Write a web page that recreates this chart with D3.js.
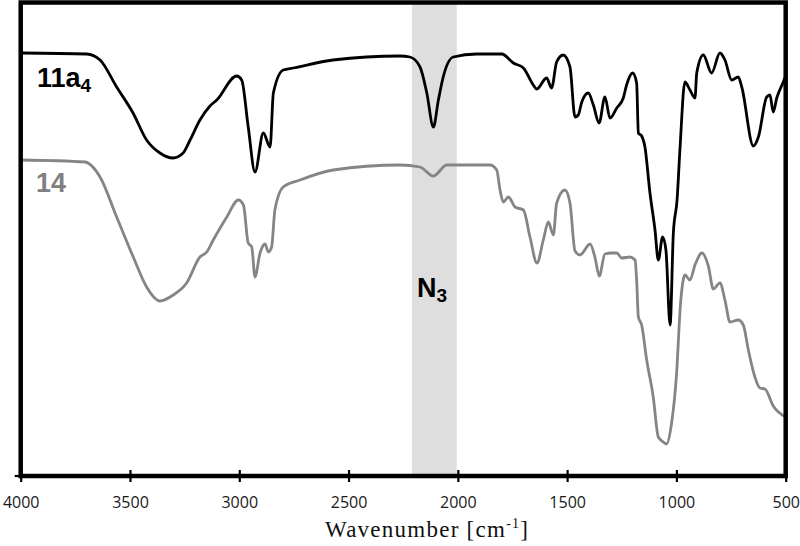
<!DOCTYPE html>
<html>
<head>
<meta charset="utf-8">
<script src="https://cdn.jsdelivr.net/npm/d3@7"></script>
<style>
  body { margin: 0; background: #fff; }
  svg { display: block; }
</style>
</head>
<body>
<svg width="800" height="546"></svg>
<script>
// IR spectra, wavenumber axis runs backwards (4000 -> 500)
const wavenumberTicks = [4000, 3500, 3000, 2500, 2000, 1500, 1000, 500];
const azideBand = [2210, 2005];

// compound 11a4 (black), arbitrary transmittance units
const wn11a4 = [4000, 3698, 3637, 3561, 3486, 3424, 3363, 3303, 3257, 3225, 3180, 3134, 3103, 3012, 2989,
  2959, 2928, 2890, 2859, 2844, 2799, 2753, 2571, 2265, 2219, 2173, 2142, 2112, 2089, 2067, 2021, 1914,
  1799, 1746, 1700, 1655, 1639, 1594, 1571, 1548, 1518, 1487, 1464, 1449, 1433, 1403, 1380, 1354, 1327,
  1304, 1273, 1243, 1228, 1200, 1182, 1174, 1159, 1144, 1121, 1098, 1083, 1063, 1048, 1029, 1014, 997,
  984, 961, 938, 915, 907, 877, 839, 801, 778, 747, 717, 701, 648, 625, 587, 572, 557, 541, 511, 500];
const t11a4 = [423, 422, 416, 389, 363, 336, 323, 318, 323, 336, 356, 370, 376, 400, 396,
  349, 304, 343, 329, 383, 406, 408, 416, 420, 419, 409, 383, 349, 376, 399, 419, 422,
  422, 413, 408, 391, 387, 398, 388, 414, 421, 409, 359, 361, 374, 383, 371, 353, 379,
  358, 368, 378, 391, 403, 393, 343, 340, 329, 283, 246, 216, 239, 226, 151, 243, 276,
  326, 394, 386, 378, 403, 421, 403, 423, 416, 396, 399, 389, 330, 339, 379, 381, 364, 378, 394, 400];

// compound 14 (grey)
const wn14 = [4000, 3706, 3637, 3561, 3485, 3424, 3363, 3302, 3241, 3180, 3149, 3119, 3057, 3004, 2981,
  2959, 2943, 2928, 2905, 2882, 2867, 2852, 2837, 2799, 2722, 2570, 2265, 2173, 2112, 2051, 1960, 1853,
  1822, 1807, 1792, 1769, 1738, 1700, 1670, 1638, 1609, 1586, 1563, 1548, 1510, 1487, 1464, 1441, 1395,
  1372, 1353, 1327, 1296, 1273, 1250, 1212, 1189, 1182, 1174, 1159, 1136, 1106, 1083, 1060, 1045, 1022,
  1000, 981, 969, 961, 938, 915, 883, 854, 831, 801, 778, 755, 717, 694, 671, 641, 618, 595, 557, 500];
const t14 = [316, 314, 299, 259, 219, 189, 175, 181, 193, 219, 224, 236, 259, 276, 271,
  233, 229, 199, 223, 232, 224, 229, 266, 289, 296, 306, 311, 309, 300, 311, 311, 311,
  306, 286, 274, 279, 269, 266, 239, 213, 236, 254, 241, 273, 286, 273, 225, 221, 232,
  218, 200, 222, 223, 223, 218, 219, 216, 196, 159, 151, 116, 79, 39, 34, 32, 53,
  100, 173, 196, 201, 196, 211, 223, 210, 187, 193, 176, 154, 156, 151, 126, 99, 88, 87, 70, 59];

var svg = d3.select("svg");
var margin = { left: 20.7, right: 14.3, top: 2.5, bottom: 70 };
var width = +svg.attr("width");
var height = +svg.attr("height");
var plotBottom = height - margin.bottom;

var x = d3.scaleLinear().domain([4000, 500]).range([margin.left, width - margin.right]);
var y = d3.scaleLinear().domain([0, 473.5]).range([plotBottom, margin.top]);

// shaded N3 region
svg.append("rect")
  .attr("x", x(azideBand[0]))
  .attr("width", x(azideBand[1]) - x(azideBand[0]))
  .attr("y", margin.top)
  .attr("height", plotBottom - margin.top)
  .attr("fill", "#dedede");

var line = d3.line()
  .x(function (d) { return x(d[0]); })
  .y(function (d) { return y(d[1]); })
  .curve(d3.curveMonotoneX);

var series = [
  { wn: wn14, t: t14, color: "#858585" },
  { wn: wn11a4, t: t11a4, color: "#000" }
];

series.forEach(function (s) {
  svg.append("path")
    .datum(d3.zip(s.wn, s.t))
    .attr("fill", "none")
    .attr("stroke", s.color)
    .attr("stroke-width", 2.8)
    .attr("stroke-linejoin", "round")
    .attr("d", line);
});

// frame
svg.append("rect")
  .attr("x", margin.left)
  .attr("y", margin.top)
  .attr("width", x(500) - x(4000))
  .attr("height", plotBottom - margin.top)
  .attr("fill", "none")
  .attr("stroke", "#000")
  .attr("stroke-width", 4.5);

// x axis with ticks crossing the baseline
var xAxis = d3.axisBottom(x).tickValues(wavenumberTicks).tickSize(6).tickFormat(d3.format("d"));
var gx = svg.append("g")
  .attr("transform", "translate(0," + plotBottom + ")")
  .call(xAxis);
gx.select(".domain").remove();
gx.selectAll(".tick line")
  .attr("y1", -6).attr("y2", 6)
  .attr("stroke", "#000").attr("stroke-width", 2.2);
gx.selectAll(".tick text")
  .attr("dy", null)
  .attr("y", 32)
  .attr("fill", "#1a1a1a")
  .style("font-family", "'Open Sans', sans-serif")
  .style("font-size", "16px");

// little y tick at the bottom-left corner
svg.append("line")
  .attr("x1", margin.left - 6).attr("x2", margin.left)
  .attr("y1", plotBottom).attr("y2", plotBottom)
  .attr("stroke", "#000").attr("stroke-width", 2.2);

// axis title
var title = svg.append("text")
  .attr("x", 325)
  .attr("y", 537)
  .attr("textLength", 203)
  .attr("lengthAdjust", "spacing")
  .style("font-family", "'Liberation Serif', 'Times New Roman', serif")
  .style("font-size", "23px")
  .attr("fill", "#111");
title.append("tspan").text("Wavenumber [cm");
title.append("tspan").attr("dy", -9).style("font-size", "14px").text("-1");
title.append("tspan").attr("dy", 9).text("]");

// curve labels
function label(main, sub, px, py, color) {
  var t = svg.append("text")
    .attr("x", px).attr("y", py)
    .attr("fill", color)
    .style("font-family", "'Liberation Sans', Arial, sans-serif")
    .style("font-weight", "bold")
    .style("font-size", "27px");
  t.append("tspan").text(main);
  if (sub) t.append("tspan").attr("dy", 5).style("font-size", "19px").text(sub);
}

label("11a", "4", 37, 87, "#000");
label("14", null, 36, 192, "#808080");
label("N", "3", 417, 297, "#000");
</script>
</body>
</html>
